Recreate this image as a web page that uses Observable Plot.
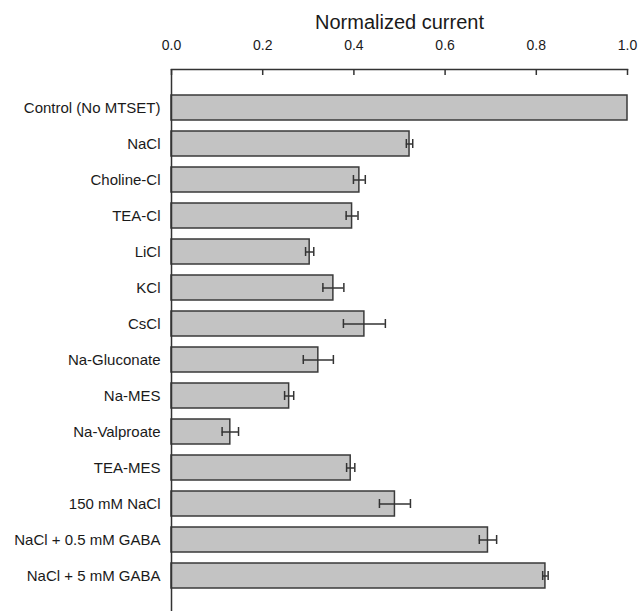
<!DOCTYPE html>
<html>
<head>
<meta charset="utf-8">
<script src="https://cdn.jsdelivr.net/npm/d3@7"></script>
<script src="https://cdn.jsdelivr.net/npm/@observablehq/plot@0.6"></script>
<style>
  html, body { margin: 0; padding: 0; background: #fff; }
  #chart svg { display: block; }
</style>
</head>
<body>
<div id="chart"></div>
<script>
const categories = [
  "Control (No MTSET)", "NaCl", "Choline-Cl", "TEA-Cl", "LiCl", "KCl", "CsCl",
  "Na-Gluconate", "Na-MES", "Na-Valproate", "TEA-MES", "150 mM NaCl",
  "NaCl + 0.5 mM GABA", "NaCl + 5 mM GABA"
];
const values = [1.0, 0.522, 0.412, 0.396, 0.303, 0.355, 0.423, 0.322, 0.258, 0.129, 0.393, 0.490, 0.694, 0.820];
const errors = [null, 0.007, 0.013, 0.013, 0.009, 0.023, 0.046, 0.033, 0.010, 0.018, 0.009, 0.034, 0.019, 0.006];
const xTicks = [0, 0.2, 0.4, 0.6, 0.8, 1.0];
const title = "Normalized current";

const data = categories.map((name, i) => ({name, value: values[i], err: errors[i]}));
const errData = data.filter(d => d.err != null);

const W = 638, H = 611, mTop = 69;
const chart = Plot.plot({
  width: W,
  height: H,
  marginTop: mTop,
  marginBottom: 0,
  marginLeft: 171,
  marginRight: 11,
  style: {fontFamily: "'Liberation Sans', Arial, sans-serif", background: "#fff", color: "#1a1a1a"},
  x: {domain: [0, 1]},
  y: {domain: categories, paddingInner: 0.3, paddingOuter: 0.575, align: 0.54},
  marks: [
    Plot.barX(data, {x: "value", y: "name", fill: "#c3c3c3", stroke: "#3a3a3a", strokeWidth: 1.5}),
    Plot.ruleY(errData, {y: "name", x1: d => d.value - d.err, x2: d => d.value + d.err, stroke: "#333", strokeWidth: 1.5}),
    Plot.tickX(errData, {x: d => d.value - d.err, y: "name", stroke: "#333", strokeWidth: 1.5, insetTop: 8, insetBottom: 8}),
    Plot.tickX(errData, {x: d => d.value + d.err, y: "name", stroke: "#333", strokeWidth: 1.5, insetTop: 8, insetBottom: 8}),
    Plot.ruleX([0], {stroke: "#333", strokeWidth: 1.5}),
    Plot.ruleX(xTicks, {stroke: "#333", strokeWidth: 1.5, insetBottom: H - mTop - 6}),
    Plot.frame({anchor: "top", stroke: "#333", strokeWidth: 1.5}),
    Plot.axisX({anchor: "top", ticks: xTicks, tickFormat: d3.format(".1f"), tickSize: 0, tickPadding: 20, fontSize: 14, label: null}),
    Plot.axisY({anchor: "left", tickSize: 0, tickPadding: 11, fontSize: 15, label: null}),
    Plot.text([title], {frameAnchor: "top", lineAnchor: "middle", dy: 22 - mTop, fontSize: 20, fill: "#1a1a1a"})
  ]
});
document.getElementById("chart").appendChild(chart);
</script>
</body>
</html>
